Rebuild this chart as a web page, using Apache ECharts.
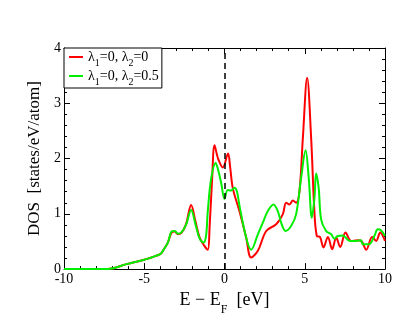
<!DOCTYPE html>
<html><head><meta charset="utf-8">
<script src="https://cdn.jsdelivr.net/npm/echarts@6/dist/echarts.min.js"></script>
<style>html,body{margin:0;padding:0;background:#fff}#c{width:415px;height:321px}</style>
</head><body><div id="c"></div>
<script>
// Data
const seriesNames = ['l1=0,l2=0', 'l1=0,l2=0.5'];
const energyRed = [-10,-7.3,-6.1,-5.0,-4.0,-3.84,-3.53,-3.3,-3.1,-2.9,-2.7,-2.4,-2.08,-1.8,-1.55,-1.25,-1.04,-0.93,-0.77,-0.62,-0.4,-0.1,0.22,0.35,0.52,0.93,1.35,1.66,2.08,2.6,3.22,3.63,3.84,4.05,4.26,4.46,4.67,4.88,5.15,5.4,5.6,5.75,5.95,6.17,6.44,6.71,6.96,7.21,7.54,7.89,8.3,8.55,8.83,9.2,9.45,9.7,10];
const dosRed    = [0,0,0.09,0.17,0.27,0.33,0.48,0.66,0.68,0.63,0.65,0.81,1.16,0.85,0.57,0.42,0.35,0.75,1.64,2.24,2.0,1.84,2.09,1.85,1.46,1.05,0.57,0.21,0.33,0.69,0.81,0.99,1.2,1.17,1.24,1.2,1.4,2.36,3.46,2.36,1.05,0.6,0.58,0.39,0.58,0.36,0.57,0.4,0.66,0.51,0.52,0.5,0.35,0.58,0.51,0.66,0.51];
const energyGreen = [-10,-7.3,-6.1,-5.0,-4.0,-3.84,-3.53,-3.3,-3.1,-2.9,-2.7,-2.4,-2.08,-1.8,-1.55,-1.3,-1.15,-1.04,-0.83,-0.55,-0.42,-0.2,0.0,0.2,0.4,0.62,0.78,0.93,1.35,1.66,2.08,2.39,2.7,3.05,3.32,3.53,3.8,4.15,4.46,4.77,5.05,5.25,5.44,5.6,5.71,5.87,6.02,6.33,6.65,6.85,7.06,7.37,7.8,8.2,8.5,8.62,9.0,9.34,9.55,9.76,10];
const dosGreen    = [0,0,0.09,0.17,0.27,0.33,0.48,0.68,0.69,0.64,0.66,0.8,1.07,0.8,0.55,0.48,0.6,1.05,1.64,1.92,1.82,1.55,1.27,1.43,1.42,1.47,1.4,1.15,0.57,0.35,0.63,0.84,1.05,1.17,1.05,0.84,0.69,0.78,0.99,1.64,2.15,1.64,0.93,1.27,1.73,1.46,0.9,0.69,0.63,0.55,0.6,0.61,0.51,0.51,0.52,0.45,0.45,0.6,0.72,0.7,0.6];
const xTickLabels = ['-10','-5','0','5','10'];
const yTickLabels = ['0','1','2','3','4'];

const FONT = '"Liberation Serif", "Times New Roman", serif';
const zip = (xs, ys) => xs.map((x, i) => [x, ys[i]]);
const chart = echarts.init(document.getElementById('c'), null, {renderer: 'canvas'});
const legendFmt = {
  [seriesNames[0]]: '{n|λ}{s|1}{n|=0, λ}{s|2}{n|=0}',
  [seriesNames[1]]: '{n|λ}{s|1}{n|=0, λ}{s|2}{n|=0.5}'
};
const subRich = {
  n: {fontFamily: FONT, fontSize: 14, color: '#000', lineHeight: 18, verticalAlign: 'middle'},
  s: {fontFamily: FONT, fontSize: 10, color: '#000', lineHeight: 18, verticalAlign: 'bottom', padding: [0,0,-2,0]}
};
const tickCommon = {inside: true, length: 6, lineStyle: {color: '#000', width: 1}};
const minorCommon = {show: true, length: 3, lineStyle: {color: '#000', width: 1}};
chart.setOption({
  animation: false,
  backgroundColor: '#fff',
  grid: {left: 64, right: 30, top: 48, bottom: 49},
  legend: {
    orient: 'vertical', left: 64, top: 48,
    padding: [2, 3, 1, 4], itemGap: 1, itemWidth: 14, itemHeight: 2,
    borderColor: '#000', borderWidth: 1, backgroundColor: '#fff',
    data: seriesNames,
    formatter: name => legendFmt[name],
    textStyle: {fontFamily: FONT, fontSize: 14, color: '#000', rich: subRich}
  },
  xAxis: [{
    type: 'value', min: -10, max: 10, interval: 5,
    name: '{n|E − E}{s|F}{n|  [eV]}', nameLocation: 'middle', nameGap: 17,
    nameTextStyle: {fontFamily: FONT, fontSize: 18, color: '#000', rich: {
      n: {fontFamily: FONT, fontSize: 18, color: '#000', lineHeight: 22, verticalAlign: 'middle'},
      s: {fontFamily: FONT, fontSize: 12, color: '#000', lineHeight: 22, verticalAlign: 'bottom', padding: [0,0,-5,0]}
    }},
    axisLine: {show: true, onZero: false, lineStyle: {color: '#000', width: 1}},
    axisTick: tickCommon, minorTick: Object.assign({splitNumber: 5}, minorCommon),
    splitLine: {show: false},
    axisLabel: {fontFamily: FONT, fontSize: 14, color: '#000', margin: 3,
      formatter: v => xTickLabels[xTickLabels.indexOf(String(v))] || String(v)}
  }, {
    type: 'value', min: -10, max: 10, interval: 5, position: 'top',
    axisLine: {show: true, onZero: false, lineStyle: {color: '#000', width: 1}},
    axisTick: tickCommon, minorTick: Object.assign({splitNumber: 5}, minorCommon),
    splitLine: {show: false}, axisLabel: {show: false}
  }],
  yAxis: [{
    type: 'value', min: 0, max: 4, interval: 1,
    name: 'DOS  [states/eV/atom]', nameLocation: 'middle', nameGap: 14, nameRotate: 90,
    nameTextStyle: {fontFamily: FONT, fontSize: 17, color: '#000'},
    axisLine: {show: true, onZero: false, lineStyle: {color: '#000', width: 1}},
    axisTick: tickCommon, minorTick: Object.assign({splitNumber: 5}, minorCommon),
    splitLine: {show: false},
    axisLabel: {fontFamily: FONT, fontSize: 14, color: '#000', margin: 3,
      formatter: v => yTickLabels[Math.round(v)]}
  }, {
    type: 'value', min: 0, max: 4, interval: 1, position: 'right',
    axisLine: {show: true, onZero: false, lineStyle: {color: '#000', width: 1}},
    axisTick: tickCommon, minorTick: Object.assign({splitNumber: 5}, minorCommon),
    splitLine: {show: false}, axisLabel: {show: false}
  }],
  series: [{
    name: seriesNames[0], type: 'line', xAxisIndex: 0, yAxisIndex: 0,
    data: zip(energyRed, dosRed), smooth: 0.35, symbol: 'none',
    lineStyle: {color: '#ff0000', width: 2}, itemStyle: {color: '#ff0000'}
  }, {
    name: seriesNames[1], type: 'line', xAxisIndex: 0, yAxisIndex: 0,
    data: zip(energyGreen, dosGreen), smooth: 0.35, symbol: 'none',
    lineStyle: {color: '#00ee00', width: 2}, itemStyle: {color: '#00ee00'},
    markLine: {silent: true, symbol: 'none', label: {show: false},
      lineStyle: {color: '#000', width: 1.5, type: [6, 4]},
      data: [{xAxis: 0}]}
  }]
});
</script></body></html>
